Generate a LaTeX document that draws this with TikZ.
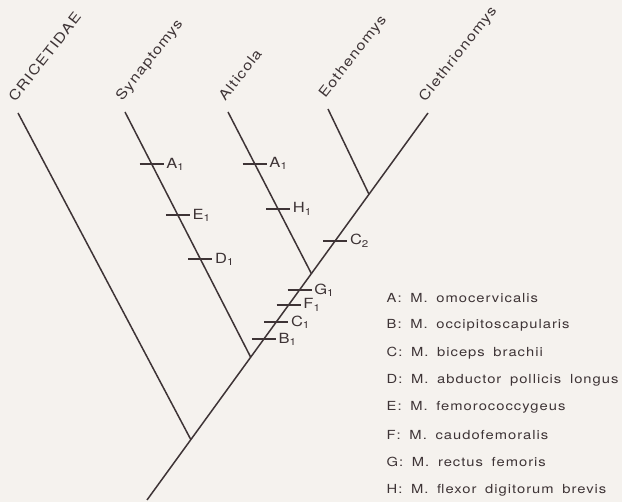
\documentclass[tikz,border=0pt]{standalone}
\usepackage{fontspec}
\setmainfont{TeX Gyre Heros}[FakeStretch=1.18, LetterSpace=8, WordSpace=1.7]
\usepackage{tikz}
\usetikzlibrary{calc}
\definecolor{ink}{RGB}{62,52,54}
\definecolor{paper}{RGB}{245,242,238}
\tikzset{
  every picture/.style={color=ink, line width=1.4pt},
  branch/.style={draw=ink, line width=1.5pt},
  tick/.style={draw=ink, line width=1.6pt},
  taxon/.style={xshift=-3pt, yshift=10pt, rotate=52, anchor=base west, inner sep=0pt, text=ink, font=\fontsize{13.8}{16}\selectfont},
  chr/.style={anchor=west, inner sep=2pt, text=ink, font=\fontsize{14}{16}\selectfont},
  legend/.style={anchor=west, inner sep=0pt, text=ink, font=\fontsize{12.5}{15}\selectfont},
}
\begin{document}
\begin{tikzpicture}[x=1pt, y=-1pt]
  \fill[paper] (0,0) rectangle (622,502);
  \useasboundingbox (0,0) rectangle (622,502);
  % tips and nodes of the tree
  \coordinate (root) at (147,500);
  \coordinate (tCri) at (18,113);
  \coordinate (tSyn) at (125,112);
  \coordinate (tAlt) at (228,112);
  \coordinate (tEot) at (328,109);
  \coordinate (tCle) at (428,113);
  \coordinate (nCri) at ($(root)!0.156!(tCle)$);
  \coordinate (nSyn) at ($(root)!0.369!(tCle)$);
  \coordinate (nAlt) at ($(root)!0.585!(tCle)$);
  \coordinate (nEot) at ($(root)!0.79!(tCle)$);
  \draw[branch] (root) -- (tCle);
  \draw[branch] (nCri) -- (tCri);
  \draw[branch] (nSyn) -- (tSyn);
  \draw[branch] (nAlt) -- (tAlt);
  \draw[branch] (nEot) -- (tEot);
  % taxon names
  \node[taxon] (lCri) at (tCri) {CRICETIDAE};
  \node[taxon] (lSyn) at (tSyn) {Synaptomys};
  \node[taxon] (lAlt) at (tAlt) {Alticola};
  \node[taxon] (lEot) at (tEot) {Eothenomys};
  \node[taxon] (lCle) at (tCle) {Clethrionomys};
  % character changes
  \foreach \a/\b/\f/\lab [count=\i] in {tSyn/nSyn/0.212/A\textsubscript{1}, tSyn/nSyn/0.42/E\textsubscript{1},
      tSyn/nSyn/0.6/D\textsubscript{1}, tAlt/nAlt/0.32/A\textsubscript{1}, tAlt/nAlt/0.6/H\textsubscript{1},
      root/tCle/0.67/C\textsubscript{2}, root/tCle/0.543/G\textsubscript{1}, root/tCle/0.504/F\textsubscript{1},
      root/tCle/0.46/C\textsubscript{1}, root/tCle/0.4156/B\textsubscript{1}} {
    \coordinate (c\i) at ($(\a)!\f!(\b)$);
    \draw[tick] ([xshift=-12pt]c\i) -- ([xshift=12pt]c\i) node[chr] (k\i) {\lab};
  }
  % legend
  \foreach \t [count=\i] in {A: M. omocervicalis, B: M. occipitoscapularis, C: M. biceps brachii,
      D: M. abductor pollicis longus, E: M. femorococcygeus, F: M. caudofemoralis,
      G: M. rectus femoris, H: M. flexor digitorum brevis}
    \node[legend] (leg\i) at (386,{298+27.4*(\i-1)}) {\t};
\end{tikzpicture}
\end{document}
